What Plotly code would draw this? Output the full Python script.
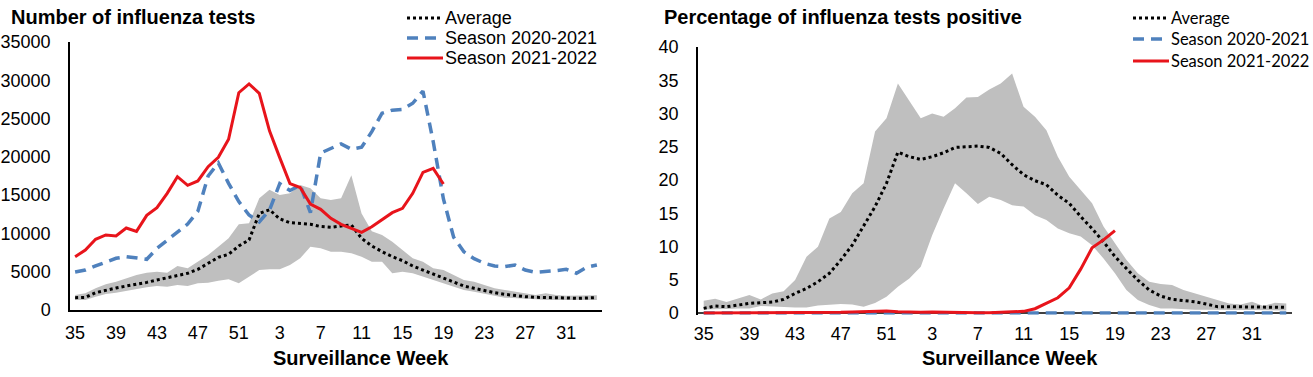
import plotly.graph_objects as go

# ---------------- data ----------------
weeks = list(range(35, 53)) + list(range(1, 35))
tick_labels = ["35", "39", "43", "47", "51", "3", "7", "11", "15", "19", "23", "27", "31"]

tests_avg = [1610, 1650, 2260, 2610, 2870, 3130, 3350, 3610, 3920, 4220, 4480, 4790, 5310,
             6090, 6880, 7270, 8360, 9150, 12600, 13100, 11900, 11400, 11300, 11200, 10900,
             10800, 10970, 11100, 9360, 8360, 7620, 6970, 6440, 5750, 5220, 4700, 4140,
             3570, 3130, 2830, 2520, 2260, 2050, 1870, 1740, 1660, 1660, 1610, 1570, 1520,
             1550, 1610]
tests_min = [1310, 1310, 1740, 2090, 2260, 2520, 2700, 2960, 3130, 3050, 3270, 3130, 3480,
             3570, 3830, 4000, 3480, 4350, 5220, 5310, 5310, 5880, 6750, 8270, 8050, 7620,
             7620, 7400, 6970, 6310, 6310, 4790, 5000, 4790, 4350, 4000, 3480, 3050, 2610,
             2390, 2090, 1870, 1610, 1520, 1390, 1390, 1310, 1310, 1310, 1220, 1220, 1310]
tests_max = [1960, 2180, 2830, 3350, 3700, 4140, 4570, 4880, 5000, 4880, 5750, 5440, 6310,
             7180, 8270, 9360, 11190, 11320, 14600, 15700, 15020, 15240, 16330, 15890, 14590,
             14370, 14590, 17600, 12600, 10300, 9800, 8920, 7840, 6750, 6310, 5440, 5220,
             4570, 3920, 3700, 3270, 2830, 2610, 2390, 2090, 1960, 2180, 1960, 1870, 1870,
             1910, 1910]
tests_2020 = [4960, 5220, 5750, 6310, 6750, 6970, 6750, 6620, 8050, 9140, 10230, 11230, 12900,
              17500, 19200, 16540, 14150, 12400, 11500, 13060, 16500, 15600, 16300, 12700,
              20500, 21100, 21700, 21000, 21250, 23300, 25700, 26100, 26200, 27000, 28600,
              22000, 14500, 9500, 7600, 6700, 6100, 5750, 5660, 5880, 5220, 4920, 5010, 5140,
              5310, 4790, 5570, 5880]
tests_2021 = [6960, 7840, 9230, 9800, 9660, 10710, 10270, 12360, 13360, 15240, 17410, 16280,
              16850, 18720, 19940, 22290, 28380, 29520, 28300, 23400, 19900, 16500, 16000,
              13840, 13150, 11970, 11190, 10670, 10140, 10880, 11840, 12710, 13280, 15240,
              17980, 18500, 16460]

pos_avg = [0.70, 1.05, 0.95, 1.20, 1.45, 1.55, 1.65, 2.05, 2.95, 3.7, 4.7, 5.97, 7.97, 10.2,
           13.1, 16.0, 19.5, 24.2, 23.5, 23.1, 23.5, 24.1, 24.9, 25.0, 25.1, 24.9, 24.0, 22.3,
           20.8, 19.9, 19.3, 17.7, 16.5, 14.5, 12.7, 10.7, 8.5, 6.7, 4.96, 3.46, 2.56, 2.05,
           1.86, 1.7, 1.35, 0.95, 0.95, 0.95, 0.9, 0.85, 0.85, 0.85]
pos_min = [0.55, 0.55, 0.6, 0.7, 0.7, 1.05, 0.95, 0.85, 0.85, 0.85, 1.15, 1.25, 1.35, 1.3,
           0.95, 1.5, 2.45, 3.96, 5.2, 6.97, 11.7, 15.7, 19.5, 18.0, 16.4, 17.5, 17.0, 16.2,
           16.0, 14.7, 14.0, 12.7, 12.0, 11.5, 10.2, 8.2, 6.0, 3.46, 1.96, 1.2, 0.7, 0.7,
           0.55, 0.5, 0.5, 0.45, 0.45, 0.45, 0.45, 0.4, 0.4, 0.4]
pos_max = [1.86, 2.16, 1.65, 2.2, 2.7, 2.05, 2.95, 3.26, 4.96, 8.47, 9.98, 14.2, 15.2, 18.0,
           19.5, 27.3, 29.3, 34.5, 31.8, 29.3, 30.0, 29.5, 30.8, 32.4, 32.5, 33.6, 34.5, 36.0,
           31.0, 29.5, 27.5, 23.5, 20.5, 18.5, 16.5, 13.0, 10.5, 8.0, 6.0, 4.7, 4.36, 4.2,
           3.46, 2.96, 2.45, 1.96, 1.45, 1.3, 1.7, 1.05, 1.55, 1.45]
pos_2020 = [0.0, 0.0, 0.0, 0.0, 0.0, 0.0, 0.0, 0.0, 0.0, 0.0, 0.0, 0.0, 0.0, 0.0, 0.0, 0.0,
            0.0, 0.0, 0.0, 0.0, 0.0, 0.0, 0.0, 0.0, 0.0, 0.0, 0.0, 0.0, 0.0, 0.0, 0.0, 0.0,
            0.0, 0.0, 0.0, 0.0, 0.0, 0.0, 0.0, 0.0, 0.0, 0.0, 0.0, 0.0, 0.0, 0.0, 0.0, 0.0,
            0.0, 0.0, 0.0, 0.0]
pos_2021 = [0.0, 0.0, 0.0, 0.0, 0.0, 0.0, 0.0, 0.0, 0.0, 0.0, 0.0, 0.05, 0.1, 0.15, 0.2, 0.3,
            0.3, 0.2, 0.1, 0.1, 0.15, 0.1, 0.05, 0.05, 0.05, 0.05, 0.1, 0.15, 0.25, 0.65, 1.5,
            2.3, 3.8, 6.6, 9.8, 11.0, 12.4]

series_names = ["Average", "Season 2020-2021", "Season 2021-2022"]

# ---------------- styles ----------------
W, H = 1313, 377
RED = "#E8141B"
BLUE = "#4F81BD"
GRAY = "#BFBFBF"
FONT = "Liberation Sans, Arial, sans-serif"
DOT = "3px,3px"
DASH = "11px,7px"

idx = list(range(len(weeks)))
tickvals = [i for i, w in enumerate(weeks) if str(w) in tick_labels]


def px_x(p):
    return p / W


def px_y(p):
    return 1 - p / H


fig = go.Figure()


def add_panel(xa, ya, lo, hi, avg, s20, s21):
    fig.add_trace(go.Scatter(x=idx, y=lo, mode="lines", line=dict(width=0, color=GRAY),
                             showlegend=False, hoverinfo="skip", xaxis=xa, yaxis=ya))
    fig.add_trace(go.Scatter(x=idx, y=hi, mode="lines", line=dict(width=0, color=GRAY),
                             fill="tonexty", fillcolor=GRAY, showlegend=False,
                             hoverinfo="skip", xaxis=xa, yaxis=ya))
    fig.add_trace(go.Scatter(x=idx, y=avg, mode="lines", name=series_names[0],
                             line=dict(color="black", width=3, dash=DOT),
                             showlegend=False, xaxis=xa, yaxis=ya))
    fig.add_trace(go.Scatter(x=idx, y=s20, mode="lines", name=series_names[1],
                             line=dict(color=BLUE, width=3.5, dash=DASH),
                             showlegend=False, xaxis=xa, yaxis=ya))
    fig.add_trace(go.Scatter(x=idx[:len(s21)], y=s21, mode="lines", name=series_names[2],
                             line=dict(color=RED, width=3),
                             showlegend=False, xaxis=xa, yaxis=ya))


add_panel("x", "y", tests_min, tests_max, tests_avg, tests_2020, tests_2021)
add_panel("x2", "y2", pos_min, pos_max, pos_avg, pos_2020, pos_2021)

axis_common = dict(showgrid=False, zeroline=False, ticks="", automargin=False,
                   tickfont=dict(family=FONT, size=18, color="black"))

fig.update_layout(
    width=W, height=H, autosize=False,
    margin=dict(l=0, r=0, t=0, b=0),
    paper_bgcolor="white", plot_bgcolor="white",
    showlegend=False,
    xaxis=dict(domain=[px_x(70), px_x(602)], range=[-0.5, 51.5], tickvals=tickvals,
               ticktext=tick_labels, showline=True, linecolor="black", linewidth=1.5,
               ticklabelstandoff=6, anchor="y", **axis_common),
    yaxis=dict(domain=[px_y(310), px_y(42)], range=[0, 35000], dtick=5000, tickformat="d",
               showline=True, linecolor="black", linewidth=1.5, ticklabelstandoff=14,
               anchor="x", **axis_common),
    xaxis2=dict(domain=[px_x(698), px_x(1292)], range=[-0.5, 51.5], tickvals=tickvals,
                ticktext=tick_labels, showline=False, ticklabelstandoff=6, anchor="y2",
                **axis_common),
    yaxis2=dict(domain=[px_y(314.7), px_y(47)], range=[-0.25, 40],
                tickvals=[0, 5, 10, 15, 20, 25, 30, 35, 40],
                showline=True, linecolor="black", linewidth=1.5, ticklabelstandoff=14,
                anchor="x2", **axis_common),
)

# x axis line of right panel drawn at zero (below traces, so red covers it)
fig.add_shape(type="line", xref="x2", yref="y2", x0=-0.5, x1=51.5, y0=0, y1=0,
              line=dict(color="black", width=1.5), layer="below")

# titles
fig.add_annotation(text="<b>Number of influenza tests</b>", xref="paper", yref="paper",
                   x=px_x(9), y=px_y(17), xanchor="left", yanchor="middle", showarrow=False,
                   font=dict(family=FONT, size=20, color="black"))
fig.add_annotation(text="<b>Percentage of influenza tests positive</b>", xref="paper", yref="paper",
                   x=px_x(662), y=px_y(17), xanchor="left", yanchor="middle", showarrow=False,
                   font=dict(family=FONT, size=20, color="black"))
for cx in (361, 1010):
    fig.add_annotation(text="<b>Surveillance Week</b>", xref="paper", yref="paper",
                       x=px_x(cx), y=px_y(358), xanchor="center", yanchor="middle",
                       showarrow=False, font=dict(family=FONT, size=20, color="black"))

# legends (custom)
styles = [dict(color="black", width=3, dash=DOT),
          dict(color=BLUE, width=3.5, dash=DASH),
          dict(color=RED, width=3)]


def add_legend(x0, x1, xt, rows, family, size):
    for name, st, r in zip(series_names, styles, rows):
        fig.add_shape(type="line", xref="paper", yref="paper", x0=px_x(x0), x1=px_x(x1),
                      y0=px_y(r), y1=px_y(r), line=st)
        fig.add_annotation(text=name, xref="paper", yref="paper", x=px_x(xt), y=px_y(r),
                           xanchor="left", yanchor="middle", showarrow=False,
                           font=dict(family=family, size=size, color="black"))


add_legend(407, 443, 443, [18, 38, 58], FONT, 18)
add_legend(1133, 1169, 1169, [18, 39, 61], "Lato, sans-serif", 16.5)

# remove the default page margin so the figure sits at the window's top-left corner
fig.write_html("out.html", config={"displayModeBar": False},
               post_script="document.body.style.margin='0';document.body.style.overflow='hidden';")
